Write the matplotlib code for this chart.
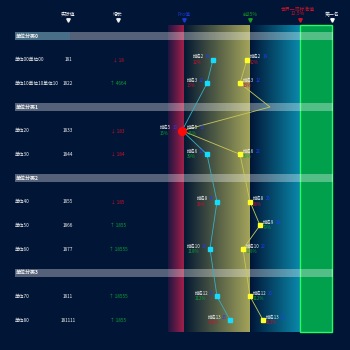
import matplotlib
matplotlib.use("Agg")
import matplotlib.pyplot as plt
import numpy as np
from matplotlib.colors import LinearSegmentedColormap

plt.rcParams["font.family"] = ["Noto Sans CJK SC", "DejaVu Sans"]

BG = "#011536"
WHITE = "#f0f0f0"
RED = "#d0102c"
GREEN = "#0fa234"
BLUE = "#1f3cff"

# table rows (group rows have no value)
rows = ["单位分类0", "单位00单位00", "单位10单位10单位10", "单位分类1", "单位20", "单位30",
        "单位分类2", "单位40", "单位50", "单位60", "单位分类3", "单位70", "单位80"]
group_rows = [0, 3, 6, 10]
actual = ["", "181", "1822", "", "1833", "1844", "", "1855", "1866", "1877", "", "1811", "181111"]
growth = [None, -18, 4664, None, -183, -184, None, -185, 1855, 18555, None, 18555, 1855]

# benchmark scale
bench_names = ["Pro值", "前25%", "世界一流标准值\n12.5%", "第一名"]
bench_values = [184, 250, 300, 332]
bench_colors = ["#1a3ad8", "#18a020", "#d01428", "#ffffff"]

# series 1 (cyan)
cyan_rows = [1, 2, 4, 5, 7, 9, 11, 12]
cyan_values = [213, 207, 182, 207, 217, 210, 217, 230]
cyan_rank = [2, 3, 5, 6, 8, 10, 12, 13]
cyan_num = [14, 12, 13, 13, 15, 13, 15, 15]
cyan_pct = ["12%", "13%", "15%", "39%", "28%", "118%", "112%", "113%"]
cyan_good = [False, False, True, True, False, True, True, False]

# series 2 (yellow)
yellow_rows = [1, 2, 3, 4, 5, 7, 8, 9, 11, 12]
yellow_values = [247, 240, 270, 182, 240, 250, 260, 243, 250, 263]
yellow_rank = [2, 3, None, 5, 6, 8, 9, 10, 12, 13]
yellow_num = [14, 12, None, 15, 22, 25, 28, 22, 25, 29]
yellow_pct = ["12%", "13%", None, "15%", "39%", "28%", "79%", "118%", "112%", "113%"]
yellow_good = [False, False, None, True, True, False, True, True, True, False]

current_row = 4

fig = plt.figure(figsize=(3.5, 3.5), dpi=100, facecolor=BG)
ax = fig.add_axes([0, 0, 1, 1])
ax.set_facecolor(BG)
ax.axis("off")

band_top, band_bottom = -0.47, 12.5


def band(x0, x1, c0, c1, z=1):
    cmap = LinearSegmentedColormap.from_list("b", [c0, c1])
    grad = np.linspace(0, 1, 256)[None, :]
    ax.imshow(grad, cmap=cmap, extent=(x0, x1, band_bottom, band_top),
              aspect="auto", zorder=z, interpolation="bicubic")


band(168, bench_values[0], "#1c1640", "#a41f4a")
band(bench_values[0], bench_values[1], "#031832", "#a4a45a")
band(bench_values[1], bench_values[2], "#011536", "#0a88aa")
ax.add_patch(plt.Rectangle((bench_values[2], band_top), bench_values[3] - bench_values[2],
                           band_bottom - band_top, facecolor="#00a04c",
                           edgecolor="#22ff5e", lw=1.0, zorder=2))
ax.set_xlim(0, 350)
ax.set_ylim(13.267, -1.521)

# headers
ax.text(68, -0.91, "实际值", color=WHITE, fontsize=3.5, ha="center", va="center")
ax.plot(68, -0.676, marker="v", color=WHITE, ms=2.5)
ax.text(118, -0.91, "增长", color=WHITE, fontsize=3.5, ha="center", va="center")
ax.plot(118, -0.676, marker="v", color=WHITE, ms=2.5)
for name, v, c in zip(bench_names, bench_values, bench_colors):
    if "\n" in name:
        ax.text(v - 2, -0.84, name, color=c, fontsize=3.5, ha="center", va="bottom",
                linespacing=0.9)
    else:
        ax.text(v, -0.91, name, color=c, fontsize=3.5, ha="center", va="center")
    ax.plot(v, -0.676, marker="v", color=c, ms=2.5, zorder=5)

# table
for i, label in enumerate(rows):
    if i in group_rows:
        ax.barh(i, 318, left=15, height=0.34, color="white", alpha=0.33, zorder=3)
        if i == 0:
            ax.barh(i, 55, left=15, height=0.34, color="#2a9ab8", alpha=0.25, zorder=3)
        ax.text(16, i, label, color=WHITE, fontsize=3.6, ha="left", va="center",
                fontweight="bold", zorder=4)
        continue
    ax.text(15, i, label, color=WHITE, fontsize=3.4, ha="left", va="center")
    ax.text(68, i, actual[i], color=WHITE, fontsize=3.4, ha="center", va="center")
    g = growth[i]
    txt = ("↑ " if g > 0 else "↓ ") + str(abs(g))
    ax.text(118, i, txt, color=GREEN if g > 0 else RED, fontsize=3.4,
            ha="center", va="center")

# series lines
ax.plot(cyan_values, cyan_rows, color="#3aaec4", lw=0.6, zorder=5)
ax.plot(yellow_values, yellow_rows, color="#c8c85a", lw=0.6, zorder=5)
for v, r in zip(cyan_values, cyan_rows):
    ax.plot(v, r, "s", color="#14dcff", ms=2.3, zorder=6)
for v, r, rk in zip(yellow_values, yellow_rows, yellow_rank):
    if rk is not None:
        ax.plot(v, r, "s", color="#ffff28", ms=2.3, zorder=6)
ax.plot(cyan_values[cyan_rows.index(current_row)], current_row, "o",
        color="#ff0a0a", ms=5.5, zorder=7)

fs = 3.2
for v, r, rk, n, p, good in zip(cyan_values, cyan_rows, cyan_rank, cyan_num,
                                cyan_pct, cyan_good):
    dx = -3.6 if r == current_row else -2.2
    t_num = ax.annotate(str(n), xy=(v, r), xytext=(dx, 2.0), textcoords="offset points",
                        ha="right", va="center", color=BLUE, fontsize=fs, zorder=8)
    t_name = ax.annotate("排名%d" % rk, xy=(0, 0.5), xycoords=t_num, xytext=(-0.8, 0),
                         textcoords="offset points", ha="right", va="center",
                         color=WHITE, fontsize=fs, zorder=8)
    ax.annotate(p, xy=(0, 0), xycoords=t_name, xytext=(0, -0.2),
                textcoords="offset points", ha="left", va="top",
                color=GREEN if good else RED, fontsize=fs, zorder=8)

for v, r, rk, n, p, good in zip(yellow_values, yellow_rows, yellow_rank, yellow_num,
                                yellow_pct, yellow_good):
    if rk is None:
        continue
    dx = 3.8 if r == current_row else 2.2
    t_name = ax.annotate("排名%d" % rk, xy=(v, r), xytext=(dx, 2.0),
                         textcoords="offset points", ha="left", va="center",
                         color=WHITE, fontsize=fs, zorder=8)
    ax.annotate(str(n), xy=(1, 0.5), xycoords=t_name, xytext=(0.8, 0),
                textcoords="offset points", ha="left", va="center",
                color=BLUE, fontsize=fs, zorder=8)
    ax.annotate(p, xy=(0, 0), xycoords=t_name, xytext=(0, -0.2),
                textcoords="offset points", ha="left", va="top",
                color=GREEN if good else RED, fontsize=fs, zorder=8)

fig.savefig("out.png", dpi=100, facecolor=BG)
